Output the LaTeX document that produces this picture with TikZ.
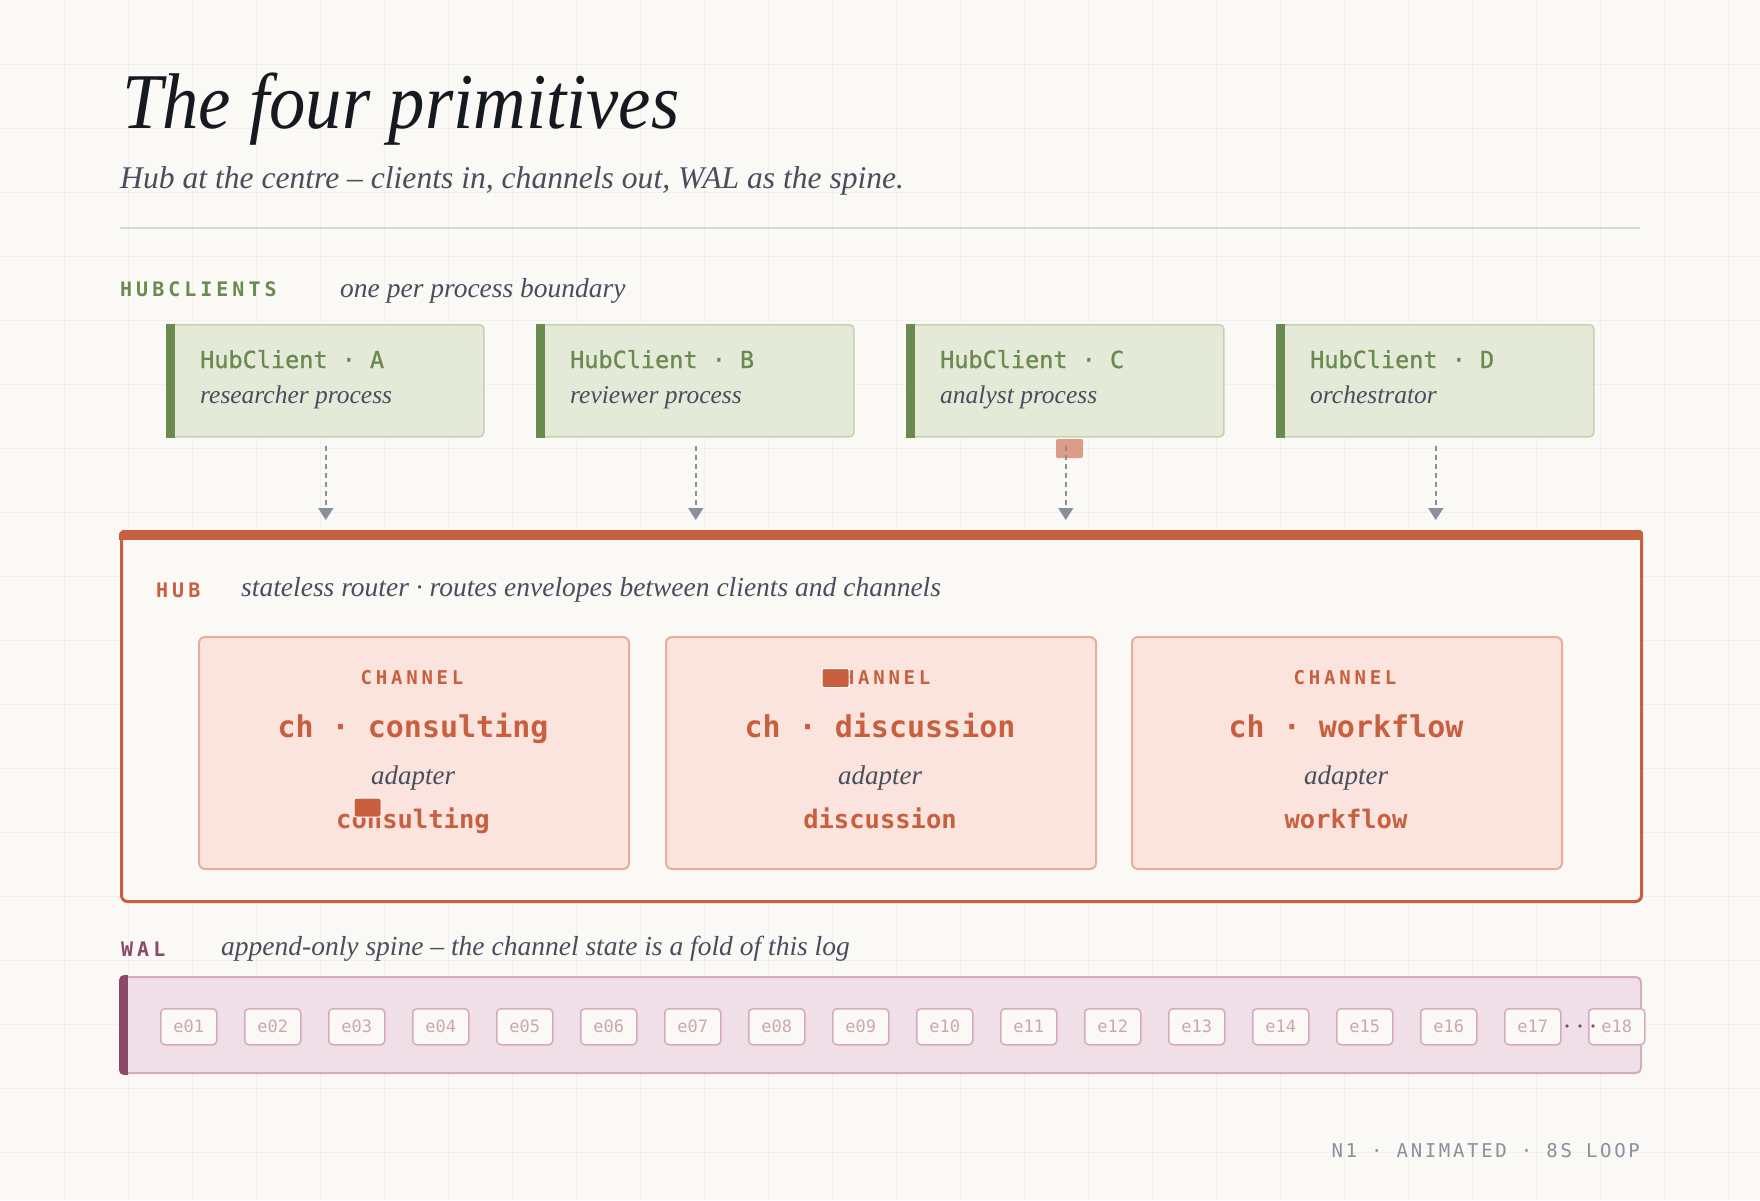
\documentclass[tikz,border=0pt]{standalone}
\usepackage{fontspec}
\usetikzlibrary{positioning, arrows.meta, calc}
\setmainfont{Liberation Serif}
\newfontfamily\monofont{DejaVu Sans Mono}
\newfontfamily\medfont[FakeBold=1]{DejaVu Sans Mono}
\newfontfamily\trackfont[LetterSpace=20]{DejaVu Sans Mono}
\newfontfamily\footfont[LetterSpace=14]{DejaVu Sans Mono}
\newcommand\fsz[1]{\fontsize{#1}{#1}\selectfont}
\definecolor{paper}{RGB}{250,249,246}
\definecolor{gridc}{RGB}{241,240,236}
\definecolor{ink}{RGB}{22,25,32}
\definecolor{slate}{RGB}{72,78,92}
\definecolor{rulec}{RGB}{214,215,219}
\definecolor{leaf}{RGB}{107,138,79}
\definecolor{leaffill}{RGB}{228,233,216}
\definecolor{leafline}{RGB}{196,210,176}
\definecolor{flowgray}{RGB}{138,143,156}
\definecolor{rust}{RGB}{200,95,63}
\definecolor{rustfill}{RGB}{251,228,221}
\definecolor{rustline}{RGB}{232,174,156}
\definecolor{plum}{RGB}{140,74,106}
\definecolor{plumfill}{RGB}{240,223,230}
\definecolor{plumline}{RGB}{212,172,189}
\definecolor{celltext}{RGB}{204,166,184}
\tikzset{
  gridline/.style={draw=gridc, line width=1},
  tag/.style={anchor=base west, inner sep=0, font=\trackfont\bfseries\fsz{20}},
  note/.style={anchor=base west, inner sep=0, text=slate, font=\itshape\fsz{27.5}},
  clientbox/.style={draw=leafline, fill=leaffill, line width=1.5, rounded corners=4,
    minimum width=316, minimum height=112, inner sep=0, anchor=north west},
  clienttitle/.style={anchor=base west, inner sep=0, text=leaf, font=\medfont\fsz{23.5}},
  clientsub/.style={anchor=base west, inner sep=0, text=slate, font=\itshape\fsz{25.5}},
  flow/.style={->, draw=flowgray, line width=1.8, dash pattern=on 5pt off 4pt,
    shorten <=8pt, shorten >=11pt},
  hubbox/.style={draw=rust, fill=paper, line width=3, rounded corners=6,
    minimum width=1520, minimum height=369, inner sep=0, anchor=north west},
  chanbox/.style={draw=rustline, fill=rustfill, line width=2, rounded corners=6,
    minimum width=430, minimum height=232, inner sep=0, anchor=north west},
  chankind/.style={anchor=base, inner sep=0, text=rust, font=\trackfont\bfseries\fsz{19}},
  channame/.style={anchor=base, inner sep=0, text=rust, font=\monofont\bfseries\fsz{30}},
  chanadapt/.style={anchor=base, inner sep=0, text=slate, font=\itshape\fsz{27}},
  chanimpl/.style={anchor=base, inner sep=0, text=rust, font=\monofont\bfseries\fsz{25.5}},
  packet/.style={fill=rust, draw=white, line width=1, rounded corners=2,
    minimum width=27, minimum height=19, inner sep=0},
  walbox/.style={draw=plumline, fill=plumfill, line width=2, rounded corners=5,
    minimum width=1520, minimum height=96, inner sep=0, anchor=north west},
  cell/.style={draw=plumline, fill=paper, line width=1.5, rounded corners=4,
    minimum width=56, minimum height=36, inner sep=0, anchor=north west,
    text=celltext, font=\monofont\fsz{17}}
}

\begin{document}
\begin{tikzpicture}[x=1pt, y=-1pt, >={Triangle[width=15pt,length=12pt]}]

\useasboundingbox (0,0) rectangle (1760,1200);
\fill[paper] (0,0) rectangle (1760,1200);
\foreach \g in {64,128,...,1728} \draw[gridline] (\g,0) -- (\g,1200);
\foreach \g in {64,128,...,1152} \draw[gridline] (0,\g) -- (1760,\g);

% heading
\node [anchor=base west, inner sep=0, text=ink] (title) at (122,128)
  {\scalebox{0.92}[1]{\fsz{79}\itshape The four primitives}};
\node [anchor=base west, inner sep=0, text=slate] (subtitle) at (120,188)
  {\fsz{31.6}\itshape Hub at the centre -- clients in, channels out, WAL as the spine.};
\draw[rulec, line width=2] (120,228) -- (1640,228);

% hub
\node [hubbox] (hub) at (120,531) {};
\begin{scope}
  \clip[rounded corners=7] ([shift={(-1.5pt,1.5pt)}]hub.north west) rectangle ([shift={(1.5pt,-1.5pt)}]hub.south east);
  \fill[rust] ([shift={(-1.5pt,1.5pt)}]hub.north west) rectangle ([yshift=-9pt]hub.north east);
\end{scope}
\node [tag, text=rust] (hubtag) at (156,597) {HUB};
\node [note] (hubnote) at (241,596) {stateless router · routes envelopes between clients and channels};

% clients
\node [tag, text=leaf] (clienttag) at (120,296) {HUBCLIENTS};
\node [note] (clientnote) at (340,297) {one per process boundary};
\fill[rust, fill opacity=0.6, rounded corners=2] (1056,439) rectangle (1083,458);
\foreach \id/\xx/\who in {A/167/researcher process, B/537/reviewer process,
                          C/907/analyst process, D/1277/orchestrator} {
  \node [clientbox] (cl\id) at (\xx,324) {};
  \fill[leaf] ([xshift=-0.75pt]cl\id.north west) rectangle ([xshift=8pt]cl\id.south west);
  \node [clienttitle] (cl\id name) at (\xx+33,368) {HubClient · \id};
  \node [clientsub] (cl\id role) at (\xx+33,403) {\who};
  \draw[flow] (cl\id.south) -- (cl\id.south |- hub.north);
}

% channels
\foreach \nm/\xx [count=\i] in {consulting/198, discussion/665, workflow/1131} {
  \node [chanbox] (ch\i) at (\xx,636) {};
  \node [chankind] (ch\i kind) at (\xx+214,684) {CHANNEL};
  \node [channame] (ch\i name) at (\xx+215,737) {ch · \nm};
  \node [chanadapt] (ch\i adapt) at (\xx+215,784) {adapter};
  \node [chanimpl] (ch\i impl) at (\xx+215,828) {\nm};
}
\node [packet] (pk1) at (367.5,807.5) {};
\node [packet] (pk2) at (835.5,678) {};

% wal
\node [tag, text=plum] (waltag) at (121,956) {WAL};
\node [note] (walnote) at (221,955) {append-only spine -- the channel state is a fold of this log};
\node [walbox] (wal) at (120,976) {};
\begin{scope}
  \clip[rounded corners=5] ([shift={(-1pt,1pt)}]wal.north west) rectangle ([shift={(1pt,-1pt)}]wal.south east);
  \fill[plum] ([shift={(-1pt,1pt)}]wal.north west) rectangle ([shift={(8pt,-1pt)}]wal.south west);
\end{scope}
\foreach \k in {1,...,18}
  \node [cell] (e\k) at ({160+84*(\k-1)},1008) {e\ifnum\k<10 0\fi\k};
\foreach \dx in {1567,1580,1593} \fill[plum] (\dx,1026) circle (1.8pt);

\node [anchor=base east, inner sep=0, text=flowgray, font=\footfont\fsz{19}] (footer) at (1640,1157)
  {N1 · ANIMATED · 8S LOOP};

\end{tikzpicture}
\end{document}
